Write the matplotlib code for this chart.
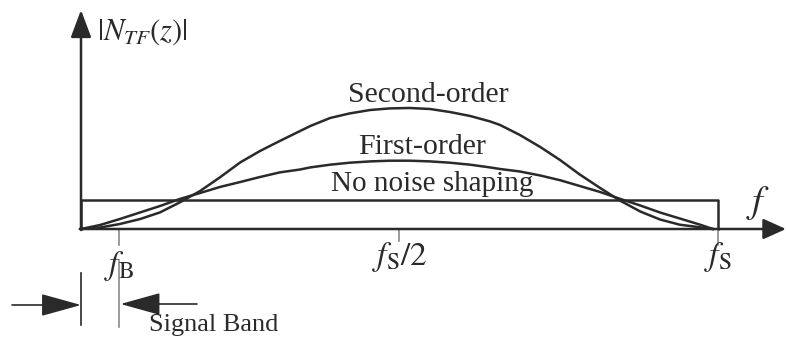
import matplotlib.pyplot as plt

plt.rcParams['font.family'] = ['Liberation Serif', 'DejaVu Serif']
plt.rcParams['mathtext.fontset'] = 'stix'

# frequency as a fraction of fs, magnitude in arbitrary units
freq = [0.0, 0.030, 0.061, 0.093, 0.124, 0.155, 0.187, 0.218, 0.250, 0.281,
        0.312, 0.344, 0.360, 0.391, 0.422, 0.454, 0.485, 0.516, 0.548, 0.579,
        0.611, 0.642, 0.658, 0.689, 0.721, 0.752, 0.783, 0.815, 0.846, 0.878,
        0.909, 0.940, 0.972, 0.992]
h_second = [0, 1.5, 5, 10, 16.6, 26.6, 38, 51.6, 66.6, 78,
            88, 98, 103, 111, 115.6, 119, 120.6, 121, 120, 117,
            113, 107.6, 104, 94, 82, 69, 54.5, 41, 28.5, 17.5,
            9.5, 4.3, 1.7, 0]
h_first = [0, 4, 10, 16.6, 23, 30, 36, 42, 47, 52,
           56.6, 59.5, 61.6, 64.3, 66.3, 67.6, 68.3, 68.3, 67.6, 66.3,
           64.3, 61.6, 60, 57.5, 53.5, 48.8, 43, 37, 30.2, 23.5,
           16.5, 10.5, 4.3, 0]

# flat (unshaped) quantisation noise level across 0..fs
flat_level = 29
f_band = 0.06

ink = '#2a2a2a'
tick_grey = '#8a8a8a'

fig = plt.figure(figsize=(7.86, 3.39), dpi=100)
ax = fig.add_axes([0, 0, 1, 1])
ax.set_xlim(-81 / 637, 705 / 637)
ax.set_ylim(-110, 229)
ax.axis('off')

# axes with arrows
ax.annotate('', xy=(0, 219), xytext=(0, -1),
            arrowprops=dict(arrowstyle='-|>,head_length=1.2,head_width=0.45',
                            mutation_scale=14, lw=1.8, color=ink,
                            shrinkA=0, shrinkB=0))
ax.annotate('', xy=(705 / 637, 0), xytext=(-0.002, 0),
            arrowprops=dict(arrowstyle='-|>,head_length=1.0,head_width=0.45',
                            mutation_scale=14, lw=1.8, color=ink,
                            shrinkA=0, shrinkB=0))

# no noise shaping: flat box
ax.plot([0, 0, 1, 1], [0, flat_level, flat_level, 0], color=ink, lw=1.8)

ax.plot(freq, h_second, color=ink, lw=1.8, solid_joinstyle='round')
ax.plot(freq, h_first, color=ink, lw=1.8, solid_joinstyle='round')

ax.text(0.545, 134, 'Second-order', ha='center', va='center', fontsize=21.5, color=ink)
ax.text(0.536, 82, 'First-order', ha='center', va='center', fontsize=21.5, color=ink)
ax.text(0.552, 45, 'No noise shaping', ha='center', va='center', fontsize=21, color=ink)

ax.text(1.063, 26, r'$f$', ha='center', va='center', fontsize=28, color=ink)
ax.text(16 / 637, 197, r'$|N_{TF}(z)|$', ha='left', va='center', fontsize=22, color=ink)

# tick marks
ax.plot([f_band, f_band], [0, -16], color=tick_grey, lw=1.2)
ax.plot([f_band, f_band], [-32, -98], color=tick_grey, lw=1.2)
ax.plot([0.5, 0.5], [0, -12], color=tick_grey, lw=1.2)
ax.plot([1, 1], [0, -16], color=tick_grey, lw=1.2)

ax.text(f_band, -37, r'$f_{\rm B}$', ha='center', va='center', fontsize=24, color=ink)
ax.text(0.5, -28, r'$f_{\rm S}/2$', ha='center', va='center', fontsize=24, color=ink)
ax.text(1, -28, r'$f_{\rm S}$', ha='center', va='center', fontsize=24, color=ink)

# signal band marker
ax.plot([0, 0], [-44, -96], color=ink, lw=1.2)
ax.annotate('', xy=(0, -76), xytext=(-69 / 637, -76),
            arrowprops=dict(arrowstyle='-|>,head_length=1.8,head_width=0.5',
                            mutation_scale=14, lw=1.2, color=ink,
                            shrinkA=0, shrinkB=0))
ax.annotate('', xy=(f_band + 0.002, -75), xytext=(0.182, -75),
            arrowprops=dict(arrowstyle='-|>,head_length=1.8,head_width=0.5',
                            mutation_scale=14, lw=1.2, color=ink,
                            shrinkA=0, shrinkB=0))
ax.text(0.107, -96, 'Signal Band', ha='left', va='center', fontsize=19, color=ink)

fig.savefig('out.png', dpi=100)
